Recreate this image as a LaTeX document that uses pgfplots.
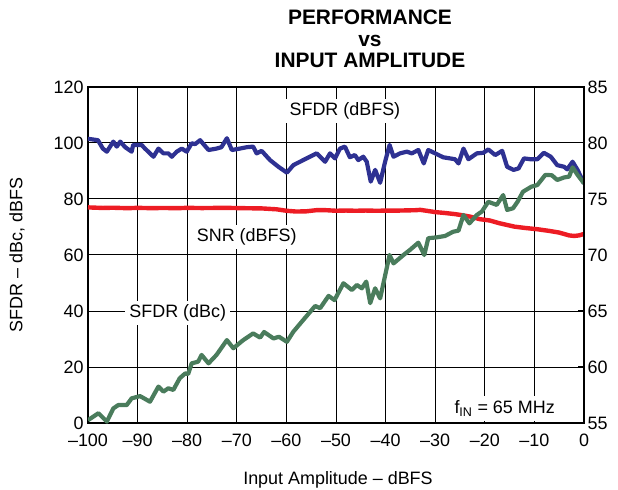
\documentclass[border=0pt]{standalone}
\usepackage{fontspec}
\setmainfont{Liberation Sans}
\usepackage{pgfplots}
\pgfplotsset{compat=1.18}
\definecolor{sfdrblue}{RGB}{46,49,146}
\definecolor{snrred}{RGB}{237,28,36}
\definecolor{sfdrgreen}{RGB}{74,124,92}
\newcommand{\lbl}{\fontsize{18}{21.6}\selectfont}
\begin{document}
\begin{tikzpicture}
\begin{axis}[
  name=ax,
  clip mode=individual,
  scale only axis, width=496bp, height=336bp,
  xmin=-100, xmax=0, ymin=0, ymax=120,
  xtick={-100,-90,...,0},
  xticklabels={--100,--90,--80,--70,--60,--50,--40,--30,--20,--10,0},
  ytick={0,20,...,120},
  xtick pos=lower, ytick pos=left,
  tick align=inside, major tick length=6bp,
  tick style={black, line width=1bp},
  grid=major, major grid style={black, line width=1bp},
  axis line style={black, line width=2.5bp},
  ticklabel style={font=\lbl},
  xticklabel style={yshift=-7bp},
  yticklabel style={xshift=-1bp},
  /pgf/number format/assume math mode=true,
  xlabel={Input Amplitude -- dBFS},
  ylabel={SFDR -- dBc, dBFS},
  label style={font=\lbl},
  xlabel style={at={(axis description cs:0.504,-0.17)}, anchor=center},
  ylabel style={at={(axis description cs:-0.143,0.5)}, anchor=center},
  every axis plot/.append style={line width=4.2bp, line join=round, mark=none},
]
% SNR (dBFS), right-axis values, mapped to left axis
\addplot[snrred, line width=4.4bp] table[x index=0, y expr=(\thisrowno{1}-55)*4] {
-100 74.25
-97 74.20
-95 74.22
-92 74.18
-90 74.21
-87 74.18
-85 74.20
-82 74.18
-80 74.21
-77 74.19
-75 74.20
-72 74.21
-70 74.19
-67 74.17
-65 74.16
-62 74.08
-60 73.95
-58 73.88
-56 73.90
-54 74.00
-52 74.00
-50 73.95
-48 73.97
-46 73.95
-44 73.97
-42 73.95
-40 73.96
-38 73.96
-36 73.98
-34 74.00
-33 74.03
-31 73.90
-30 73.83
-28 73.75
-26 73.65
-24.5 73.55
-23 73.43
-21 73.20
-19 73.08
-17 72.83
-15 72.63
-14 72.53
-12 72.42
-9.4 72.30
-7 72.15
-5 72.00
-3 71.75
-2 71.70
-1 71.75
0 71.88
};
% SFDR (dBFS)
\addplot[sfdrblue] table {
-100 101.5
-98 101
-97 98
-96.2 96.9
-94.9 100.5
-94.2 98.7
-93.5 100.5
-92.5 98.5
-91.2 96.9
-90.9 99.3
-89.2 99.3
-88.5 98
-86.8 95.1
-85.8 98
-84.8 96.3
-83.8 96.3
-83.1 95.1
-82.1 96.9
-81.1 98
-80.1 96.9
-79.1 99.9
-78.4 99.6
-77.4 101
-75.7 97.5
-74.1 98
-73.1 98.5
-72 101.7
-71 97.5
-69.4 98
-68 98.5
-66.7 98.7
-66 96.3
-65 97.2
-63.3 93.9
-61.6 91.5
-59.9 89.4
-58.6 92.1
-56.6 93.9
-53.9 96.3
-52.2 93.3
-51.2 96.3
-50.2 94.5
-49.2 98
-48.2 98.7
-47.2 94.9
-46.2 95.7
-45.5 93.9
-44.5 95.1
-43.8 93.3
-43 86.2
-42.1 90.4
-41.1 85.8
-40.1 93.3
-39.2 99.3
-38.4 95.1
-37.1 96.3
-35.7 96.9
-34.7 96.3
-33.4 97.5
-32.3 92.7
-31.4 97.5
-30 96.3
-28.4 94.9
-26 94.2
-25.3 92.7
-24.3 98
-23.3 94.2
-21.6 96.3
-20.3 96.5
-19.3 97.7
-17.9 95.7
-16.5 97.2
-15.5 91.5
-14.2 90.4
-13.2 90.9
-12.1 94.5
-10.8 94.2
-9.4 94.2
-8.1 96.5
-6.7 95.1
-5.4 92.1
-4 91.5
-3.4 90.6
-2.3 93.3
-1.3 90.4
0 85.5
};
% SFDR (dBc)
\addplot[sfdrgreen] table {
-100 1
-97.9 3.5
-96.2 0.5
-94.9 5.2
-93.9 6.4
-92.2 6.4
-91.2 8.8
-89.5 9.6
-87.5 7.6
-85.8 13
-84.8 11.2
-83.8 12.4
-82.8 11.8
-81.5 16
-80.4 17.7
-79.8 17.5
-79.1 21.3
-77.8 21.9
-77.1 24.3
-75.7 21.3
-74.1 24.3
-72 29.6
-70.7 26.7
-68.7 29.6
-66.7 32
-65.3 30.5
-64.5 32.5
-62.6 30.2
-61.5 30.8
-59.9 29
-58.6 32.6
-56.6 36.8
-54.2 41.8
-53.2 41
-51.5 45.4
-50.3 43.9
-48.5 49.9
-46.8 47.5
-45.8 49.3
-44.8 48.1
-43.9 50.5
-43.1 42.8
-42.1 48.1
-41.1 44.5
-39.2 60
-38.4 57
-36.4 60
-35.1 61.8
-33.4 64.4
-32.2 60
-31.4 66
-29.7 66.3
-28 66.8
-26.4 68.3
-25.3 68.7
-24.3 74.3
-23.1 71.3
-21.6 74.3
-20.6 75.5
-19.3 79
-17.6 77.9
-16.3 81.4
-15.5 76.1
-14.3 76.7
-13.4 79
-12.3 82.6
-10.6 84.4
-9.4 85
-7.8 88.6
-6.5 88.5
-5.4 86.8
-4 87.7
-3 88
-2.3 91.3
-1.3 88.6
0 85.6
};
\node[fill=white, inner sep=4bp, font=\lbl] at (axis cs:-48.2,111.4) {SFDR (dBFS)};
\node[fill=white, inner sep=4bp, font=\lbl] at (axis cs:-68,66.4) {SNR (dBFS)};
\node[fill=white, inner sep=4bp, font=\lbl] at (axis cs:-81.9,39.3) {SFDR (dBc)};
\node[fill=white, anchor=south, inner xsep=4bp, inner ysep=5bp, yshift=1.5bp, font=\lbl] at (axis cs:-16,0) {f\textsubscript{IN} = 65 MHz};
\end{axis}
\begin{axis}[
  scale only axis, width=496bp, height=336bp,
  xmin=-100, xmax=0, ymin=55, ymax=85,
  axis x line=none, axis y line*=right,
  ytick={55,60,...,85},
  tick align=inside, major tick length=6bp,
  tick style={black, line width=1bp},
  axis line style={black, line width=2.5bp},
  ticklabel style={font=\lbl},
  /pgf/number format/assume math mode=true,
]
\end{axis}
\node[anchor=south, align=center, inner sep=0pt, xshift=34bp, yshift=19bp,
      font=\bfseries\fontsize{21}{21.5}\selectfont] at (ax.north) {PERFORMANCE\\vs\\INPUT AMPLITUDE};
\pgfresetboundingbox
\path[use as bounding box] ([shift={(-88bp,-67bp)}]ax.south west) rectangle ([shift={(34bp,87bp)}]ax.north east);
\end{tikzpicture}
\end{document}
